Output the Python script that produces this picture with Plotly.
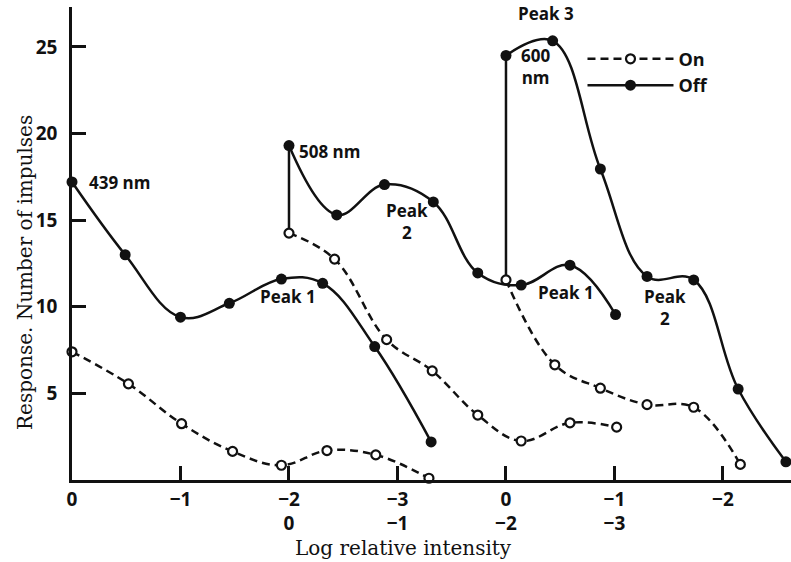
import plotly.graph_objects as go

# ---- data ----
# horizontal offset of each wavelength's intensity scale (chart units)
offsets = {"439": 0.0, "508": 2.0, "600": 4.0}

log_439_off = [0, -0.49, -1.0, -1.45, -1.93, -2.31, -2.79, -3.31]
val_439_off = [17.2, 13.0, 9.4, 10.2, 11.6, 11.35, 7.7, 2.2]
log_439_on = [0, -0.52, -1.01, -1.48, -1.93, -2.35, -2.80, -3.29]
val_439_on = [7.4, 5.55, 3.25, 1.65, 0.85, 1.7, 1.45, 0.1]

log_508_off = [0, -0.44, -0.88, -1.33, -1.74, -2.14, -2.59, -3.01]
val_508_off = [19.3, 15.3, 17.05, 16.05, 11.95, 11.25, 12.4, 9.55]
log_508_on = [0, -0.42, -0.90, -1.32, -1.74, -2.14, -2.59, -3.02]
val_508_on = [14.25, 12.75, 8.1, 6.3, 3.75, 2.25, 3.3, 3.05]

log_600_off = [0, -0.43, -0.87, -1.30, -1.73, -2.14, -2.58]
val_600_off = [24.5, 25.35, 17.95, 11.75, 11.55, 5.25, 1.05]
log_600_on = [0, -0.45, -0.87, -1.30, -1.73, -2.16]
val_600_on = [11.55, 6.65, 5.3, 4.35, 4.2, 0.9]

tick_pos = [0, 1, 2, 3, 4, 5, 6]
tick_row1 = ["0", "\u22121", "\u22122", "\u22123", "0", "\u22121", "\u22122"]
tick_row2 = ["", "", "0", "\u22121", "\u22122", "\u22123", ""]
y_ticks = [5, 10, 15, 20, 25]

SANS = "Open Sans"
SERIF = "DejaVu Serif"
BLACK = "#111111"


def pos(key, logs):
    return [offsets[key] - v for v in logs]


fig = go.Figure()

off_sets = [("439", log_439_off, val_439_off), ("508", log_508_off, val_508_off),
            ("600", log_600_off, val_600_off)]
on_sets = [("439", log_439_on, val_439_on), ("508", log_508_on, val_508_on),
           ("600", log_600_on, val_600_on)]

# vertical connectors between On and Off starting points (508 and 600 nm)
cx, cy = [], []
for (k, lo, vo), (_, ln, vn) in zip(off_sets[1:], on_sets[1:]):
    cx += [pos(k, ln)[0], pos(k, lo)[0], None]
    cy += [vn[0], vo[0], None]
fig.add_trace(go.Scatter(x=cx, y=cy, mode="lines", line=dict(color=BLACK, width=2.5),
                         showlegend=False, hoverinfo="skip", cliponaxis=False))

for i, (k, lg, v) in enumerate(on_sets):
    fig.add_trace(go.Scatter(
        x=pos(k, lg), y=v, mode="lines+markers", name="On",
        line=dict(color=BLACK, width=2.5, dash="8px,5px", shape="spline", smoothing=1.1),
        marker=dict(symbol="circle", size=9, color="white", line=dict(color=BLACK, width=2.2)),
        showlegend=(i == 0), legendrank=1, cliponaxis=False))

for i, (k, lg, v) in enumerate(off_sets):
    fig.add_trace(go.Scatter(
        x=pos(k, lg), y=v, mode="lines+markers", name="Off",
        line=dict(color=BLACK, width=2.5, shape="spline", smoothing=1.1),
        marker=dict(symbol="circle", size=11, color=BLACK),
        showlegend=(i == 0), legendrank=2, cliponaxis=False))

ticktext = [a if not b else f"{a}<br>{b}" for a, b in zip(tick_row1, tick_row2)]

fig.update_layout(
    width=791, height=562,
    margin=dict(l=72, r=0, t=7, b=82),
    paper_bgcolor="white", plot_bgcolor="white",
    font=dict(family=SANS, color=BLACK, size=18, weight="bold"),
    showlegend=True,
    legend=dict(x=0.71, y=0.929, xanchor="left", yanchor="top",
                bgcolor="rgba(0,0,0,0)", itemwidth=86,
                font=dict(family=SANS, size=18, weight="bold"),
                tracegroupgap=0, traceorder="normal"),
    xaxis=dict(range=[0, 6.627], showgrid=False, zeroline=False,
               showline=True, linecolor=BLACK, linewidth=2.5,
               ticks="inside", ticklen=14, tickwidth=2.5, tickcolor=BLACK,
               tickvals=tick_pos, ticktext=ticktext,
               tickfont=dict(family=SANS, size=19, weight="bold")),
    yaxis=dict(range=[0, 27.3], showgrid=False, zeroline=False,
               showline=True, linecolor=BLACK, linewidth=2.5,
               ticks="inside", ticklen=14, tickwidth=2.5, tickcolor=BLACK,
               tickvals=y_ticks, ticklabelstandoff=8,
               tickfont=dict(family=SANS, size=19, weight="bold")),
)

# axis titles
fig.add_annotation(text="Log relative intensity", xref="paper", yref="paper",
                   x=(403 - 72) / 719, y=-(548 - 480) / 473, showarrow=False,
                   xanchor="center", yanchor="middle",
                   font=dict(family=SERIF, size=20, weight="normal"))
fig.add_annotation(text="Response. Number of impulses", xref="paper", yref="paper",
                   x=-(72 - 25) / 719, y=(480 - 273) / 473, textangle=-90, showarrow=False,
                   xanchor="center", yanchor="middle",
                   font=dict(family=SERIF, size=20, weight="normal"))

# curve labels
labels = [
    ("439 nm", pos("439", log_439_off)[0] + 0.14, val_439_off[0] - 0.05, "left"),
    ("508 nm", pos("508", log_508_off)[0] + 0.07, val_508_off[0] - 0.35, "left"),
    ("600<br>nm", 4.27, 23.85, "center"),
    ("Peak 3", 4.37, 26.9, "center"),
    ("Peak 1", 1.99, 10.6, "center"),
    ("Peak<br>2", 3.09, 14.9, "center"),
    ("Peak 1", 4.55, 10.8, "center"),
    ("Peak<br>2", 5.47, 9.95, "center"),
]
for t, x, y, al in labels:
    fig.add_annotation(text=t, x=x, y=y, xref="x", yref="y", showarrow=False,
                       xanchor=al, align="center",
                       font=dict(family=SANS, size=17, weight="bold"))

fig.write_html("out.html",
               config={"displayModeBar": False},
               post_script="document.body.style.margin='0';"
                           "document.body.style.overflow='hidden';")
